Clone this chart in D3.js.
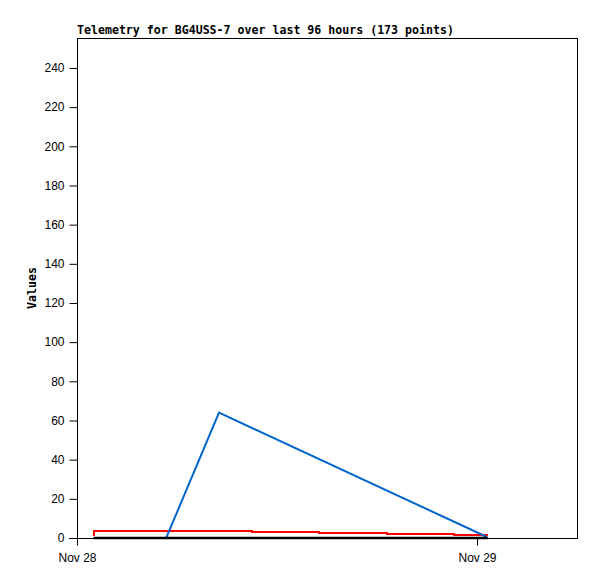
<!DOCTYPE html>
<html><head><meta charset="utf-8">
<script src="https://cdn.jsdelivr.net/npm/d3@7"></script>
<style>
body{margin:0;background:#fff;}
svg{display:block;}
</style></head>
<body>
<svg id="chart" width="597" height="579"></svg>
<script>
// Data (hours after Nov 28 00:00)
const titleText = "Telemetry for BG4USS-7 over last 96 hours (173 points)";
const yLabel = "Values";
const yTicks = [0,20,40,60,80,100,120,140,160,180,200,220,240];
const xTickLabels = ["Nov 28","Nov 29"];
const redHours = [0.97, 1.0, 10.5, 14.5, 18.6, 22.6, 24.65];
const redValues = [1.5, 3.6, 3.1, 2.6, 2.0, 1.5, 1.5];
const blueHours = [1.0, 5.35, 8.52, 24.6];
const blueValues = [0, 0, 64, 0.5];
const blackHours = [1.0, 24.65];
const blackValues = [0, 0];

const base = new Date(2024, 10, 28, 0, 0, 0);
const toDate = h => new Date(base.getTime() + h * 3600000);

const svg = d3.select("#chart");
const L = 77, R = 577, T = 38, B = 538;
const x = d3.scaleTime().domain([toDate(0), toDate(30)]).range([L, R]);
const y = d3.scaleLinear().domain([0, 255.3]).range([B, T]);

// border
svg.append("rect").attr("x", L + 0.5).attr("y", T + 0.5).attr("width", R - L).attr("height", B - T)
  .attr("fill", "none").attr("stroke", "#000").attr("stroke-width", 1);

const fontTick = "'Liberation Sans', Arial, sans-serif";

// y axis
const yAxis = d3.axisLeft(y).tickValues(yTicks).tickSize(8).tickPadding(5).tickSizeOuter(0);
const gy = svg.append("g").attr("transform", `translate(${L + 0.5},0)`).call(yAxis);
gy.select(".domain").attr("d", `M0,${T}V${B + 7}`);
gy.selectAll("text").attr("font-family", fontTick).attr("font-size", 12).attr("fill", "#000");

// x axis
const xTickDates = [toDate(0), toDate(24)];
const xAxis = d3.axisBottom(x).tickValues(xTickDates).tickFormat((d, i) => xTickLabels[i]).tickSize(7).tickPadding(8).tickSizeOuter(0);
const gx = svg.append("g").attr("transform", `translate(0,${B + 0.5})`).call(xAxis);
gx.select(".domain").attr("d", `M${L - 8},0H${R}`);
gx.selectAll("text").attr("font-family", fontTick).attr("font-size", 12).attr("fill", "#000");
svg.selectAll(".tick line").attr("stroke", "#000");

// series
const mk = (hs, vs) => hs.map((h, i) => [toDate(h), vs[i]]);
const lineStep = d3.line().x(d => x(d[0])).y(d => y(d[1])).curve(d3.curveStepAfter);
const lineLin = d3.line().x(d => x(d[0])).y(d => y(d[1]));

svg.append("path").attr("d", lineStep(mk(redHours, redValues))).attr("fill", "none")
  .attr("stroke", "#ff0000").attr("stroke-width", 2).attr("shape-rendering", "crispEdges");
svg.append("path").attr("d", lineLin(mk(blueHours, blueValues))).attr("fill", "none")
  .attr("stroke", "#0066cc").attr("stroke-width", 2);
svg.append("path").attr("d", lineLin(mk(blackHours, blackValues))).attr("fill", "none")
  .attr("stroke", "#000").attr("stroke-width", 2.5);

// title
svg.append("text").attr("x", L).attr("y", 34).text(titleText)
  .attr("font-family", "'DejaVu Sans Mono', 'Liberation Mono', monospace").attr("font-weight", "bold")
  .attr("font-size", 11.6).attr("fill", "#000");

// y label
svg.append("text").attr("transform", `translate(36,${(T + B) / 2}) rotate(-90)`).attr("text-anchor", "middle")
  .text(yLabel).attr("font-family", "'DejaVu Sans Mono', 'Liberation Mono', monospace").attr("font-weight", "bold")
  .attr("font-size", 11.6).attr("fill", "#000");
</script>
</body></html>
